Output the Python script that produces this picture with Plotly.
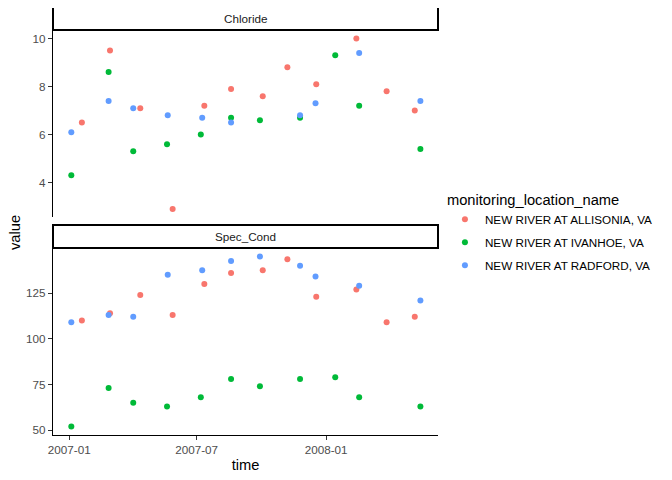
import plotly.graph_objects as go

# sampling dates per site
allisonia_dates = ["2007-01-19", "2007-02-28", "2007-04-12", "2007-05-28", "2007-07-12", "2007-08-19",
                   "2007-10-03", "2007-11-07", "2007-12-18", "2008-02-13", "2008-03-27", "2008-05-06"]
ivanhoe_dates = ["2007-01-04", "2007-02-26", "2007-04-02", "2007-05-20", "2007-07-07", "2007-08-19",
                 "2007-09-29", "2007-11-25", "2008-01-14", "2008-02-17", "2008-05-14"]
radford_dates = ["2007-01-04", "2007-02-26", "2007-04-02", "2007-05-21", "2007-07-09", "2007-08-19",
                 "2007-09-29", "2007-11-25", "2007-12-17", "2008-02-17", "2008-05-14"]

# Chloride
allisonia_chloride = [6.5, 9.5, 7.1, 2.9, 7.2, 7.9, 7.6, 8.8, 8.1, 10.0, 7.8, 7.0]
ivanhoe_chloride = [4.3, 8.6, 5.3, 5.6, 6.0, 6.7, 6.6, 6.7, 9.3, 7.2, 5.4]
radford_chloride = [6.1, 7.4, 7.1, 6.8, 6.7, 6.5, None, 6.8, 7.3, 9.4, 7.4]

# Spec_Cond
allisonia_spec = [110, 114, 124, 113, 130, 136, 137.5, 143.5, 123, 127, 109, 112]
ivanhoe_spec = [52, 73, 65, 63, 68, 78, 74, 78, 79, 68, 63]
radford_spec = [109, 113, 112, 135, 137.5, 142.5, 145, 140, 134, 129, 121]

sites = ["NEW RIVER AT ALLISONIA, VA", "NEW RIVER AT IVANHOE, VA", "NEW RIVER AT RADFORD, VA"]
colors = ["#F8766D", "#00BA38", "#619CFF"]
facets = ["Chloride", "Spec_Cond"]

dates = [allisonia_dates, ivanhoe_dates, radford_dates]
chloride = [allisonia_chloride, ivanhoe_chloride, radford_chloride]
spec = [allisonia_spec, ivanhoe_spec, radford_spec]

FONT = "Liberation Sans, Arial, sans-serif"

fig = go.Figure()
for i in range(3):
    fig.add_trace(go.Scatter(x=dates[i], y=chloride[i], mode="markers", name=sites[i],
                             legendgroup=sites[i], marker=dict(color=colors[i], size=6),
                             xaxis="x", yaxis="y"))
for i in range(3):
    fig.add_trace(go.Scatter(x=dates[i], y=spec[i], mode="markers", name=sites[i],
                             legendgroup=sites[i], showlegend=False,
                             marker=dict(color=colors[i], size=6),
                             xaxis="x", yaxis="y2"))


def padded(vals):
    v = [a for a in vals if a is not None]
    lo, hi = min(v), max(v)
    pad = (hi - lo) * 0.05
    return [lo - pad, hi + pad]


tickfont = dict(family=FONT, size=11.7, color="#4D4D4D")
yax = dict(showgrid=False, zeroline=False, showline=True, linecolor="black", linewidth=1.1,
           ticks="outside", ticklen=4, tickcolor="#333333", tickfont=tickfont)

# page has an 8px body margin, so the layout is shifted up/left to compensate
top_dom = [0.5094, 0.9485]
bot_dom = [0.0, 0.4379]

fig.update_layout(
    width=672, height=480,
    margin=dict(l=45, r=242, t=0, b=53),
    paper_bgcolor="white", plot_bgcolor="white",
    font=dict(family=FONT, color="black"),
    xaxis=dict(range=["2006-12-09", "2008-06-08"], anchor="y2", domain=[0, 1],
               tickvals=["2007-01-01", "2007-07-01", "2008-01-01"],
               ticktext=["2007-01", "2007-07", "2008-01"],
               showgrid=False, zeroline=False, showline=True, linecolor="black", linewidth=1.1,
               ticks="outside", ticklen=3.7, tickcolor="#333333", tickfont=tickfont,
               title=dict(text="time", font=dict(family=FONT, size=14.7, color="black"), standoff=4)),
    yaxis=dict(domain=top_dom, range=padded(sum(chloride, [])), tickvals=[4, 6, 8, 10], anchor="x", **yax),
    yaxis2=dict(domain=bot_dom, range=padded(sum(spec, [])), tickvals=[50, 75, 100, 125], anchor="x", **yax),
    legend=dict(x=1.018, xanchor="left", y=0.473, yanchor="middle",
                font=dict(family=FONT, size=11.7, color="black"),
                title=dict(text="monitoring_location_name", font=dict(family=FONT, size=14.7, color="black")),
                itemwidth=30, tracegroupgap=4),
    showlegend=True,
)

# facet strips
strips = [(0.9485, 1.0023, facets[0]), (0.4379, 0.4918, facets[1])]
for y0, y1, label in strips:
    fig.add_shape(type="rect", xref="paper", yref="paper", x0=0, x1=1, y0=y0, y1=y1,
                  line=dict(color="black", width=2), fillcolor="white")
    fig.add_annotation(text=label, xref="paper", yref="paper", x=0.5, y=(y0 + y1) / 2,
                       xanchor="center", yanchor="middle",
                       showarrow=False, font=dict(family=FONT, size=11.7, color="#1A1A1A"))

fig.add_annotation(text="value", xref="paper", yref="paper", x=(7 - 45) / 385, y=0.473,
                   xanchor="center", yanchor="middle",
                   textangle=-90, showarrow=False, font=dict(family=FONT, size=14.7, color="black"))

fig.write_html("out.html")
